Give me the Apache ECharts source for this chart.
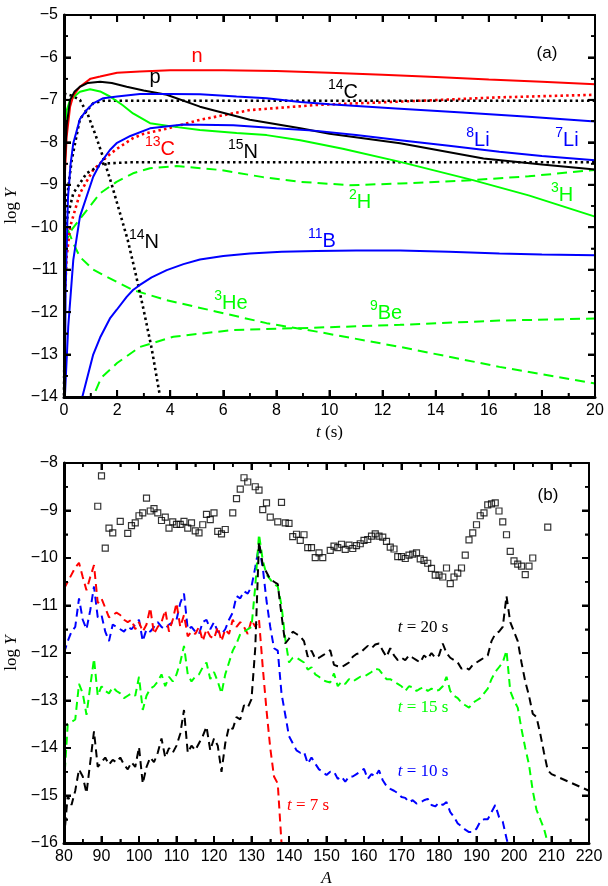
<!DOCTYPE html>
<html><head><meta charset="utf-8">
<script src="https://cdn.jsdelivr.net/npm/echarts@6/dist/echarts.min.js"></script>
<style>html,body{margin:0;padding:0;background:#fff}#top{width:608px;height:440px}#bot{width:608px;height:446px}</style>
</head><body><div id="top"></div><div id="bot"></div>
<script>
// ---------- Panel (a): log Y vs t (s) ----------
const tN   = [0, 0.03, 0.1, 0.23, 0.35, 0.6, 1.0, 1.36, 2.0, 2.86, 4, 6, 8, 10, 12, 14, 16, 18, 20];
const yN   = [-10, -8.8, -7.87, -7.16, -6.9, -6.69, -6.5, -6.45, -6.36, -6.33, -6.3, -6.3, -6.32, -6.36, -6.41, -6.46, -6.52, -6.57, -6.63];
const tP   = [0, 0.03, 0.1, 0.23, 0.4, 0.6, 0.9, 1.36, 1.8, 2.36, 3, 3.87, 5.12, 7, 8.9, 10, 12.66, 15.8, 18, 20];
const yP   = [-10, -8.5, -7.6, -7.0, -6.8, -6.69, -6.6, -6.57, -6.6, -6.69, -6.78, -6.88, -7.16, -7.47, -7.67, -7.8, -8.02, -8.38, -8.52, -8.64];
const tH3  = [0, 0.02, 0.04, 0.1, 0.23, 0.6, 0.98, 1.36, 1.73, 2.2, 2.6, 3.24, 4.12, 5.12, 6.5, 7.63, 8.9, 10.5, 12.66, 15.4, 17.5, 20];
const yH3  = [-10, -8.5, -7.63, -7.25, -7.0, -6.81, -6.75, -6.8, -6.92, -7.12, -7.32, -7.55, -7.63, -7.71, -7.78, -7.83, -7.95, -8.15, -8.46, -8.89, -9.25, -9.75];
const tLi7 = [0.03, 0.06, 0.15, 0.25, 0.35, 0.6, 0.85, 1.1, 1.48, 2.0, 2.86, 4, 5.12, 6.5, 7.63, 8.9, 10, 12.5, 15, 17.5, 20];
const yLi7 = [-14.2, -11.5, -9.3, -8.5, -8.02, -7.45, -7.24, -7.08, -6.96, -6.92, -6.86, -6.86, -6.87, -6.92, -6.96, -7.05, -7.1, -7.2, -7.3, -7.4, -7.51];
const tLi8 = [0.02, 0.04, 0.16, 0.35, 0.6, 1.1, 1.36, 1.73, 1.98, 2.5, 3.24, 4.5, 6.38, 8, 9.52, 11, 12.66, 14.5, 16.4, 18, 20];
const yLi8 = [-14.2, -13.9, -12.34, -10.77, -9.75, -8.81, -8.5, -8.18, -8.02, -7.85, -7.67, -7.58, -7.6, -7.67, -7.73, -7.83, -7.95, -8.08, -8.22, -8.32, -8.42];
const tB11 = [0.6, 0.66, 1.1, 1.36, 1.73, 1.98, 2.36, 2.6, 2.86, 3.3, 3.87, 4.5, 5.12, 6, 7, 8.2, 9.52, 11, 12.66, 14.5, 16.4, 18, 20];
const yB11 = [-14.3, -14.07, -13.0, -12.6, -12.15, -11.95, -11.64, -11.48, -11.36, -11.18, -11.01, -10.87, -10.76, -10.68, -10.62, -10.58, -10.56, -10.55, -10.55, -10.58, -10.62, -10.64, -10.66];
const tC13 = [0.02, 0.1, 0.23, 0.6, 1.1, 1.61, 2.0, 2.6, 3.0, 3.87, 5.12, 7, 9.52, 12.66, 16.4, 20];
const yC13 = [-11.8, -10.7, -9.99, -9.2, -8.65, -8.34, -8.15, -7.9, -7.8, -7.68, -7.47, -7.24, -7.12, -7.04, -6.94, -6.88];
const tC14 = [0, 0.04, 0.29, 0.6, 1.1, 1.48, 3, 20];
const yC14 = [-14.5, -9.67, -8.42, -7.45, -7.08, -7.02, -7.02, -7.02];
const tN15 = [0, 0.04, 0.35, 0.85, 1.48, 2.5, 20];
const yN15 = [-14.5, -9.99, -9.2, -8.73, -8.5, -8.47, -8.47];
const tN14 = [0, 0.3, 0.6, 0.9, 1.2, 1.5, 1.8, 2.1, 2.4, 2.7, 3.0, 3.3, 3.62];
const yN14 = [-6.85, -6.9, -7.0, -7.35, -7.85, -8.4, -9.0, -9.65, -10.3, -11.1, -11.95, -12.85, -14.0];
const tH2  = [0, 0.1, 0.3, 0.67, 1.36, 1.98, 2.6, 3.24, 4.24, 5.87, 7.5, 8.9, 10.77, 12.66, 15.4, 17.5, 20];
const yH2  = [-10.8, -10.3, -10.05, -9.75, -9.2, -8.93, -8.73, -8.61, -8.56, -8.65, -8.82, -8.93, -9.01, -8.97, -8.89, -8.8, -8.65];
const tHe3 = [0, 0.1, 0.35, 0.6, 1.1, 1.61, 2.6, 3.87, 5.75, 7.63, 9.52, 12.66, 16.4, 20];
const yHe3 = [-9.7, -9.99, -10.38, -10.7, -11.0, -11.17, -11.48, -11.72, -11.99, -12.26, -12.46, -12.82, -13.29, -13.68];
const tBe9 = [0.95, 1.4, 2.0, 2.86, 4.12, 6.38, 9.3, 12.66, 16.4, 20];
const yBe9 = [-14.2, -13.55, -13.2, -12.82, -12.58, -12.42, -12.37, -12.3, -12.2, -12.15];

// ---------- Panel (b): log Y vs A ----------
const solarA = [89,90,91,92,93,95,97,98,99,100,
  101,102,103,104,105,106,107,108,109,110,
  111,112,113,114,115,116,117,118,119,120,
  121,122,123,125,126,127,128,129,131,132,
  133,134,135,137,138,139,140,141,142,143,
  144,145,146,147,148,149,151,152,153,154,
  155,156,157,158,159,160,161,162,163,164,
  165,166,167,168,169,170,171,172,173,174,
  175,176,177,178,179,180,181,182,183,184,
  185,186,187,188,189,190,191,192,193,194,
  195,196,197,198,199,200,201,202,203,204,
  205,209];
const solarY = [-8.91,-8.27,-9.79,-9.37,-9.47,-9.23,-9.48,-9.32,-9.26,-9.11,
  -9.05,-8.74,-9.01,-8.96,-9.05,-9.21,-9.14,-9.37,-9.24,-9.29,
  -9.29,-9.23,-9.37,-9.26,-9.43,-9.47,-9.3,-9.08,-9.19,-9.05,
  -9.44,-9.49,-9.4,-9.05,-8.75,-8.55,-8.31,-8.4,-8.5,-8.57,
  -8.98,-8.84,-9.14,-9.24,-8.83,-9.26,-9.27,-9.55,-9.5,-9.63,
  -9.51,-9.78,-9.78,-9.99,-9.89,-9.99,-9.84,-9.75,-9.78,-9.71,
  -9.82,-9.73,-9.8,-9.74,-9.7,-9.63,-9.61,-9.54,-9.49,-9.54,
  -9.56,-9.65,-9.77,-9.81,-9.97,-9.97,-10.01,-9.94,-9.92,-9.89,
  -10.02,-10.05,-10.11,-10.22,-10.36,-10.36,-10.4,-10.21,-10.54,-10.4,
  -10.32,-10.21,-9.94,-9.62,-9.47,-9.3,-9.11,-9.05,-8.88,-8.86,
  -8.84,-9.01,-9.24,-9.51,-9.86,-10.06,-10.13,-10.17,-10.35,-10.17,
  -10.0,-9.35];

function range(a, b, step) { const r = []; const s = step || 1; for (let v = a; v <= b + 1e-9; v += s) r.push(Math.round(v * 100) / 100); return r; }
const massT7  = range(80, 138);
const massT10 = range(80, 199);
const massT15 = range(80, 209);
const massT20 = range(80, 210).concat([220]);

const yT7 = [-10.65,-10.5,-10.35,-10.2,-10.1,-10.4,-10.68,-10.4,-10.15,-10.95,
  -10.85,-11.05,-11.25,-11.2,-11.15,-11.2,-11.3,-11.35,-11.3,-11.5,
  -11.35,-11.55,-11.4,-11.05,-11.6,-11.45,-11.35,-11.1,-11.55,-11.3,
  -10.95,-11.45,-11.2,-11.65,-11.55,-11.6,-11.45,-11.75,-11.5,-11.65,
  -11.7,-11.45,-11.75,-11.5,-11.6,-11.3,-11.45,-11.35,-11.45,-11.6,
  -11.3,-11.45,-11.3,-12.3,-13.2,-14.0,-14.6,-14.75,-16.0];
const yT10 = [-12.0,-11.75,-11.55,-11.45,-10.85,-11.3,-11.5,-11.1,-10.6,-11.25,
  -11.2,-11.55,-11.75,-11.4,-11.45,-11.5,-11.55,-11.45,-11.5,-11.4,
  -11.3,-11.75,-11.5,-11.55,-11.45,-11.35,-11.45,-11.5,-11.4,-11.35,
  -11.3,-10.95,-10.75,-11.5,-11.45,-11.55,-11.6,-11.35,-11.3,-11.5,
  -11.35,-11.55,-11.6,-11.5,-11.3,-11.15,-10.8,-10.85,-10.7,-10.75,
  -10.6,-10.2,-9.75,-10.2,-10.9,-11.45,-11.9,-11.95,-12.85,-13.3,
  -13.75,-13.9,-14.05,-14.1,-14.08,-14.33,-14.2,-14.33,-14.45,-14.5,
  -14.57,-14.5,-14.5,-14.65,-14.6,-14.71,-14.6,-14.6,-14.55,-14.5,
  -14.44,-14.65,-14.55,-14.6,-14.47,-14.68,-14.8,-14.86,-14.9,-14.95,
  -15.03,-15.05,-15.14,-15.1,-15.17,-15.15,-15.1,-15.07,-15.2,-15.23,
  -15.15,-15.2,-15.14,-15.35,-15.45,-15.59,-15.65,-15.72,-15.77,-15.77,
  -15.7,-15.55,-15.5,-15.5,-15.35,-15.2,-15.45,-15.55,-15.9,-16.2];
const yT15 = [-14.75,-13.5,-13.45,-13.4,-12.65,-12.85,-13.3,-12.7,-12.12,-12.9,
  -12.7,-12.8,-12.85,-12.72,-12.8,-12.85,-12.95,-12.9,-12.85,-12.9,
  -12.5,-13.2,-12.9,-12.75,-12.7,-12.6,-12.45,-12.7,-12.5,-12.6,
  -12.45,-12.2,-11.85,-12.45,-12.6,-12.5,-12.45,-12.3,-12.2,-12.55,
  -12.4,-12.6,-12.85,-12.45,-12.2,-11.95,-11.8,-11.6,-11.55,-11.5,
  -11.45,-10.6,-9.5,-10.05,-10.35,-10.45,-10.55,-10.6,-11.0,-11.7,
  -12.2,-12.1,-12.1,-12.15,-12.2,-12.35,-12.3,-12.45,-12.5,-12.57,
  -12.6,-12.62,-12.43,-12.7,-12.6,-12.65,-12.55,-12.6,-12.55,-12.5,
  -12.5,-12.45,-12.4,-12.33,-12.35,-12.45,-12.55,-12.55,-12.6,-12.65,
  -12.7,-12.8,-12.7,-12.72,-12.8,-12.75,-12.72,-12.8,-12.75,-12.8,
  -12.78,-12.7,-12.5,-12.8,-12.9,-12.95,-13.05,-13.1,-13.15,-13.05,
  -13.0,-12.95,-12.85,-12.75,-12.55,-12.4,-12.3,-12.2,-11.95,-12.8,
  -13.0,-13.15,-13.6,-14.0,-14.35,-14.9,-15.3,-15.5,-15.7,-16.0];
const yT20 = [-15.9,-15.0,-15.2,-14.9,-14.45,-14.6,-14.95,-14.3,-13.65,-14.4,
  -14.3,-14.2,-14.35,-14.25,-14.3,-14.2,-14.35,-14.45,-14.3,-14.4,
  -13.98,-14.75,-14.4,-14.2,-14.3,-14.1,-13.8,-14.2,-14.0,-14.1,
  -13.95,-13.7,-13.2,-14.1,-13.95,-14.05,-13.9,-13.75,-13.55,-14.05,
  -13.8,-13.95,-14.5,-13.9,-13.55,-13.6,-13.35,-13.4,-13.1,-13.15,
  -12.97,-11.9,-9.66,-10.15,-10.3,-10.45,-10.5,-10.55,-11.2,-11.8,
  -11.7,-11.55,-11.6,-11.65,-11.75,-12.08,-11.95,-12.12,-12.1,-12.05,
  -12.0,-11.94,-12.25,-12.28,-12.3,-12.25,-12.2,-12.08,-12.02,-12.0,
  -11.92,-11.85,-11.9,-11.82,-11.8,-11.95,-12.08,-11.9,-12.05,-12.15,
  -12.1,-12.15,-12.05,-12.1,-12.15,-12.2,-12.05,-12.12,-12.0,-12.1,
  -12.05,-11.8,-12.0,-12.1,-12.15,-12.2,-12.33,-12.3,-12.35,-12.25,
  -12.2,-12.15,-12.1,-12.05,-11.75,-11.6,-11.55,-11.45,-10.8,-11.35,
  -11.55,-11.75,-12.2,-12.6,-12.9,-13.28,-13.35,-13.7,-14.1,-14.47,-14.55,
  -14.9];

// ---------- styling ----------
const RED = '#ff0000', GREEN = '#00ff00', BLUE = '#0000ff', BLACK = '#000000';
const SANS = 'Liberation Sans, Arial, sans-serif';
const SERIF = 'Liberation Serif, Times New Roman, serif';
function zip(xs, ys) { return xs.map((x, i) => [x, ys[i]]); }
function fmt(v) { return String(v).replace('-', '\u2212'); }

function mkAxis(min, max, interval, pos, main, extra) {
  const thick = (pos === 'bottom' || pos === 'left') ? 3 : 2;
  return Object.assign({
    type: 'value', position: pos, min, max, interval, zlevel: 1,
    axisLine: { show: true, onZero: false, lineStyle: { color: '#000', width: thick, type: 'solid' } },
    axisTick: { show: true, inside: true, length: 7, lineStyle: { color: '#000', width: 2, type: 'solid' } },
    minorTick: { show: true, splitNumber: 2, length: 4, lineStyle: { color: '#000', width: 1.5, type: 'solid' } },
    splitLine: { show: false },
    axisLabel: { show: main, formatter: fmt, fontFamily: SANS, fontSize: 16, color: '#000', margin: 6 }
  }, extra || {});
}
const nameStyle = { fontFamily: SERIF, fontSize: 17, color: '#000',
  rich: { r: { fontFamily: SERIF, fontSize: 17, color: '#000' },
          i: { fontFamily: SERIF, fontSize: 17, fontStyle: 'italic', color: '#000' } } };

function topLine(xs, ys, color, kind) {
  const ls = { color, width: 2 };
  if (kind === 'dot') { ls.type = [2.5, 3.2]; ls.width = 2.6; }
  if (kind === 'dash') { ls.type = [10, 6]; }
  return { type: 'line', data: zip(xs, ys), showSymbol: false, symbol: 'none', clip: true, lineStyle: ls, z: 3 };
}
function botLine(xs, ys, color) {
  return { type: 'line', data: zip(xs, ys), showSymbol: false, symbol: 'none', clip: true,
    lineStyle: { color, width: 2, type: [8, 5] }, z: 3 };
}
function lab(x, y, sup, main, color) {
  const txt = sup ? '{s|' + sup + '}{m|' + main + '}' : '{m|' + main + '}';
  return { type: 'text', x, y, z: 100, silent: true, style: {
    text: txt, fill: color, align: 'center', verticalAlign: 'middle',
    rich: {
      s: { fontFamily: SANS, fontSize: 14, lineHeight: 14, verticalAlign: 'top', fill: color },
      m: { fontFamily: SANS, fontSize: 20, lineHeight: 28, verticalAlign: 'middle', fill: color }
    } } };
}
function tlab(x, y, str, color) {
  return { type: 'text', x, y, z: 100, silent: true, style: {
    text: '{i|t}{r| = ' + str + '}', fill: color, align: 'center', verticalAlign: 'middle',
    rich: {
      i: { fontFamily: SERIF, fontSize: 17, fontStyle: 'italic', fill: color },
      r: { fontFamily: SERIF, fontSize: 17, fill: color }
    } } };
}
function plain(x, y, str, color, size) {
  return { type: 'text', x, y, z: 100, silent: true, style: {
    text: str, fill: color, align: 'center', verticalAlign: 'middle', fontFamily: SANS, fontSize: size } };
}
// inside tick marks on all four sides as small filled bars on their own layer,
// positioned through the grid's own scales (convertToPixel)
function tickMarks(chart, xt, isMajX, yt, isMajY, x0, x1, y0, y1) {
  const els = [];
  const bar = (x, y, w, h) => els.push({ type: 'rect', zlevel: 2, z: 90, silent: true,
    shape: { x, y, width: w, height: h }, style: { fill: '#000' } });
  xt.forEach(v => {
    const m = isMajX(v), len = m ? 7 : 4, w = m ? 2 : 1.5;
    const pb = chart.convertToPixel({ gridIndex: 0 }, [v, y0]);
    const pt = chart.convertToPixel({ gridIndex: 0 }, [v, y1]);
    bar(pb[0] - w / 2, pb[1] - len, w, len);
    bar(pt[0] - w / 2, pt[1], w, len);
  });
  yt.forEach(v => {
    const m = isMajY(v), len = m ? 7 : 4, w = m ? 2 : 1.5;
    const pl = chart.convertToPixel({ gridIndex: 0 }, [x0, v]);
    const pr = chart.convertToPixel({ gridIndex: 0 }, [x1, v]);
    bar(pl[0], pl[1] - w / 2, len, w);
    bar(pr[0] - len, pr[1] - w / 2, len, w);
  });
  return els;
}

// ---------- chart (a) ----------
const chartA = echarts.init(document.getElementById('top'));
chartA.setOption({
  animation: false,
  grid: { left: 64, top: 15, width: 531, height: 382, outerBoundsMode: 'none', containLabel: false },
  xAxis: [
    mkAxis(0, 20, 2, 'bottom', true, { name: '{i|t} {r|(s)}', nameLocation: 'middle', nameGap: 27, nameTextStyle: nameStyle }),
    mkAxis(0, 20, 2, 'top', false)
  ],
  yAxis: [
    mkAxis(-14, -5, 1, 'left', true, { name: '{r|log} {i|Y}', nameLocation: 'middle', nameGap: 38, nameTextStyle: nameStyle }),
    mkAxis(-14, -5, 1, 'right', false)
  ],
  series: [
    topLine(tH2, yH2, GREEN, 'dash'),
    topLine(tHe3, yHe3, GREEN, 'dash'),
    topLine(tBe9, yBe9, GREEN, 'dash'),
    topLine(tC13, yC13, RED, 'dot'),
    topLine(tC14, yC14, BLACK, 'dot'),
    topLine(tN15, yN15, BLACK, 'dot'),
    topLine(tN14, yN14, BLACK, 'dot'),
    topLine(tH3, yH3, GREEN, 'solid'),
    topLine(tN, yN, RED, 'solid'),
    topLine(tP, yP, BLACK, 'solid'),
    topLine(tLi7, yLi7, BLUE, 'solid'),
    topLine(tLi8, yLi8, BLUE, 'solid'),
    topLine(tB11, yB11, BLUE, 'solid')
  ]
});
const labelsA = [
  lab(197, 56, '', 'n', RED),
  lab(155, 77, '', 'p', BLACK),
  lab(343, 92, '14', 'C', BLACK),
  lab(160, 149, '13', 'C', RED),
  lab(243, 152, '15', 'N', BLACK),
  lab(478, 140, '8', 'Li', BLUE),
  lab(567, 140, '7', 'Li', BLUE),
  lab(360, 202, '2', 'H', GREEN),
  lab(562, 195, '3', 'H', GREEN),
  lab(144, 242, '14', 'N', BLACK),
  lab(322, 241, '11', 'B', BLUE),
  lab(231, 303, '3', 'He', GREEN),
  lab(386, 313, '9', 'Be', GREEN),
  plain(547, 53, '(a)', BLACK, 17)
];
chartA.setOption({ graphic: labelsA.concat(tickMarks(chartA, range(0, 20), v => v % 2 === 0,
  range(-14, -5, 0.5), v => Number.isInteger(v), 0, 20, -14, -5)) });

// ---------- chart (b) ----------
const chartB = echarts.init(document.getElementById('bot'));
chartB.setOption({
  animation: false,
  grid: { left: 64, top: 23, width: 525, height: 380, outerBoundsMode: 'none', containLabel: false },
  xAxis: [
    mkAxis(80, 220, 10, 'bottom', true, { name: '{i|A}', nameLocation: 'middle', nameGap: 24, nameTextStyle: nameStyle }),
    mkAxis(80, 220, 10, 'top', false)
  ],
  yAxis: [
    mkAxis(-16, -8, 1, 'left', true, { name: '{r|log} {i|Y}', nameLocation: 'middle', nameGap: 38, nameTextStyle: nameStyle }),
    mkAxis(-16, -8, 1, 'right', false)
  ],
  series: [
    botLine(massT10, yT10, BLUE),
    botLine(massT7, yT7, RED),
    botLine(massT15, yT15, GREEN),
    botLine(massT20, yT20, BLACK),
    { type: 'scatter', data: zip(solarA, solarY), symbol: 'rect', symbolSize: 6,
      itemStyle: { color: 'rgba(255,255,255,0)', borderColor: '#000', borderWidth: 1.2 }, z: 4 }
  ]
});
const labelsB = [
  plain(548, 55, '(b)', BLACK, 17),
  tlab(423, 188, '20 s', BLACK),
  tlab(423, 268, '15 s', GREEN),
  tlab(423, 332, '10 s', BLUE),
  tlab(308, 366, '7 s', RED)
];
chartB.setOption({ graphic: labelsB.concat(tickMarks(chartB, range(80, 220, 5), v => v % 10 === 0,
  range(-16, -8, 0.5), v => Number.isInteger(v), 80, 220, -16, -8)) });
</script></body></html>
